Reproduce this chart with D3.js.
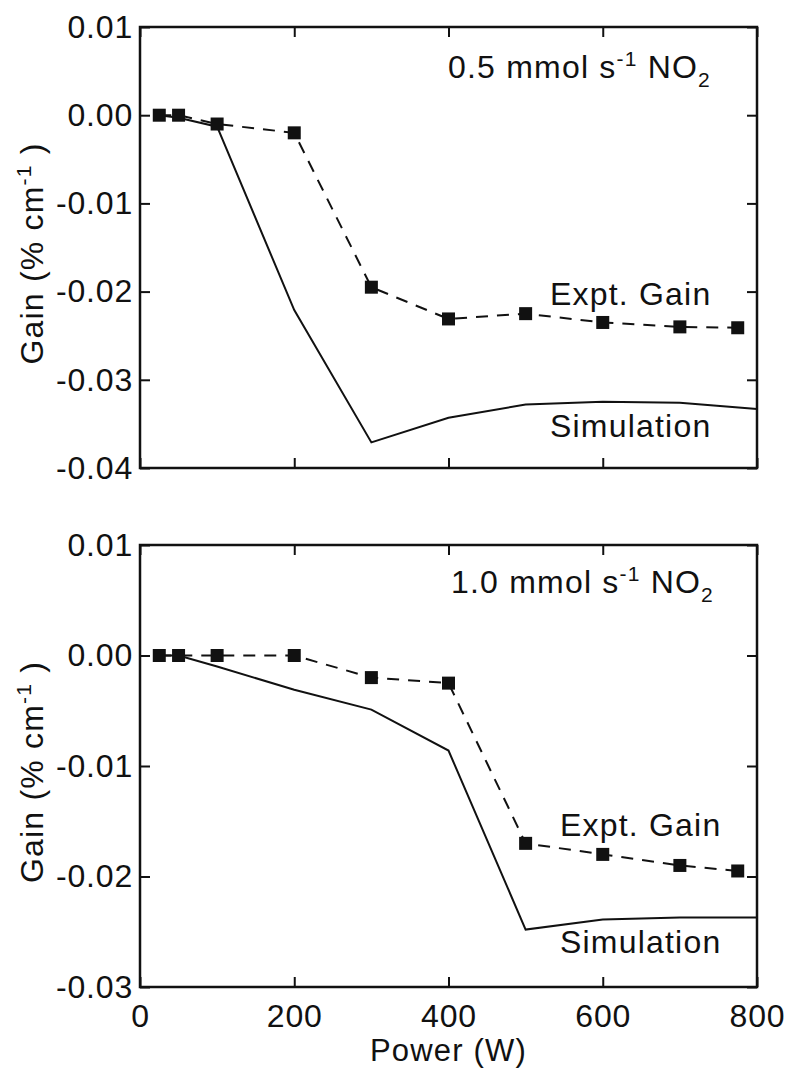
<!DOCTYPE html>
<html lang="en">
<head>
<meta charset="UTF-8">
<title>Gain vs Power</title>
<style>
  body { margin: 0; background: #fff; }
  text { font-family: "Liberation Sans", Arial, sans-serif; fill: #111; letter-spacing: 1.2px; }
</style>
</head>
<body>
<script src="https://cdn.jsdelivr.net/npm/d3@7"></script>
<script>
// experiment and simulation, 0.5 mmol/s NO2 (top panel)
var exptPower = [25, 50, 100, 200, 300, 400, 500, 600, 700, 775];
var exptGainA = [0, 0, -0.001, -0.002, -0.0195, -0.0231, -0.0225, -0.0235, -0.024, -0.0241];
var simPower = [25, 50, 100, 200, 300, 400, 500, 600, 700, 800];
var simGainA = [0, -0.0003, -0.0013, -0.0221, -0.0371, -0.0343, -0.0328, -0.0325, -0.0326, -0.0333];

// 1.0 mmol/s NO2 (bottom panel)
var exptGainB = [0, 0, 0, 0, -0.002, -0.0025, -0.017, -0.018, -0.019, -0.0195];
var simGainB = [0, 0, -0.001, -0.0031, -0.0049, -0.0086, -0.0248, -0.0239, -0.0237, -0.0237];

var xTicks = [0, 200, 400, 600, 800];
var yTicksA = [0.01, 0, -0.01, -0.02, -0.03, -0.04];
var yTicksB = [0.01, 0, -0.01, -0.02, -0.03];

var W = 790, H = 1068;
var left = 140, right = 757;

var svg = d3.select("body").append("svg")
    .attr("width", W)
    .attr("height", H);

var x = d3.scaleLinear().domain([0, 800]).range([left, right]);

function panel(top, bottom, yTicks, expt, sim, showX) {
    var y = d3.scaleLinear()
        .domain([yTicks[yTicks.length - 1], yTicks[0]])
        .range([bottom, top]);
    var g = svg.append("g");
    var fmt = function (d) { return d.toFixed(2); };

    // axes, ticks pointing inward
    g.append("g")
        .attr("transform", "translate(" + left + ",0)")
        .call(d3.axisLeft(y).tickValues(yTicks).tickFormat(fmt)
            .tickSizeInner(-10).tickSizeOuter(0).tickPadding(7));
    g.append("g")
        .attr("transform", "translate(" + right + ",0)")
        .call(d3.axisRight(y).tickValues(yTicks).tickFormat("")
            .tickSizeInner(-10).tickSizeOuter(0));
    g.append("g")
        .attr("transform", "translate(0," + top + ")")
        .call(d3.axisTop(x).tickValues(xTicks).tickFormat("")
            .tickSizeInner(-10).tickSizeOuter(0));
    g.append("g")
        .attr("transform", "translate(0," + bottom + ")")
        .call(d3.axisBottom(x).tickValues(xTicks)
            .tickFormat(showX ? d3.format("d") : "")
            .tickSizeInner(-10).tickSizeOuter(0).tickPadding(17));

    g.selectAll(".domain").remove();
    g.selectAll(".tick line").attr("stroke", "#111").attr("stroke-width", 2);
    g.selectAll(".tick text")
        .style("font-size", "32px")
        .style("letter-spacing", "0.8px")
        .attr("fill", "#111");

    g.append("rect")
        .attr("x", left).attr("y", top)
        .attr("width", right - left).attr("height", bottom - top)
        .attr("fill", "none").attr("stroke", "#111").attr("stroke-width", 2.5);

    var line = d3.line()
        .x(function (d) { return x(d[0]); })
        .y(function (d) { return y(d[1]); });

    var simPts = d3.zip(simPower, sim);
    var exptPts = d3.zip(exptPower, expt);

    g.append("path").datum(simPts)
        .attr("d", line)
        .attr("fill", "none").attr("stroke", "#111").attr("stroke-width", 2);

    g.append("path").datum(exptPts)
        .attr("d", line)
        .attr("fill", "none").attr("stroke", "#111").attr("stroke-width", 2)
        .attr("stroke-dasharray", "12,9");

    g.selectAll(".pt").data(exptPts).enter().append("rect")
        .attr("x", function (d) { return x(d[0]) - 6.5; })
        .attr("y", function (d) { return y(d[1]) - 6.5; })
        .attr("width", 13).attr("height", 13)
        .attr("fill", "#111");

    // y axis title
    var yl = g.append("text")
        .attr("transform", "translate(43," + ((top + bottom) / 2 + 6) + ") rotate(-90)")
        .attr("text-anchor", "middle")
        .style("font-size", "32px");
    yl.append("tspan").text("Gain (% cm");
    yl.append("tspan").attr("dy", -12).style("font-size", "21px").text("-1");
    yl.append("tspan").attr("dy", 12).text(" )");

    return g;
}

var gA = panel(27, 468, yTicksA, exptGainA, simGainA, false);
var gB = panel(545, 987, yTicksB, exptGainB, simGainB, true);

function conc(g, xpos, ypos, num) {
    var t = g.append("text")
        .attr("x", xpos).attr("y", ypos)
        .style("font-size", "32px");
    t.append("tspan").text(num + " mmol s");
    t.append("tspan").attr("dy", -12).style("font-size", "21px").text("-1");
    t.append("tspan").attr("dy", 12).text(" NO");
    t.append("tspan").attr("dy", 9).style("font-size", "21px").text("2");
}
conc(gA, 448, 78, "0.5");
conc(gB, 451, 593, "1.0");

function note(g, xpos, ypos, s) {
    g.append("text").attr("x", xpos).attr("y", ypos)
        .style("font-size", "32px").text(s);
}
note(gA, 550, 305, "Expt. Gain");
note(gA, 550, 437, "Simulation");
note(gB, 560, 836, "Expt. Gain");
note(gB, 560, 953, "Simulation");

svg.append("text")
    .attr("x", (left + right) / 2).attr("y", 1061)
    .attr("text-anchor", "middle")
    .style("font-size", "31px")
    .text("Power (W)");
</script>
</body>
</html>
